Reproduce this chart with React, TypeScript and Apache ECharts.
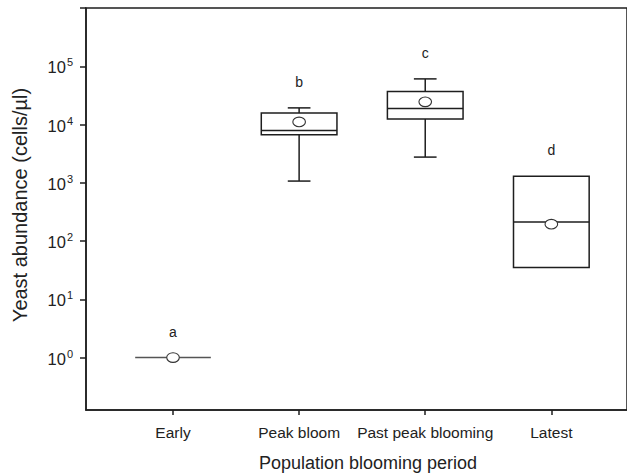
import React, { useEffect, useRef } from "react";
import * as echarts from "echarts";

const categories = ["Early", "Peak bloom", "Past peak blooming", "Latest"];
const whiskerLow = [1, 1070, 2760, 35];
const quartile1 = [1, 6650, 12400, 35];
const medians = [1, 7900, 18900, 212];
const quartile3 = [1, 15700, 36900, 1300];
const whiskerHigh = [1, 19300, 60700, 1300];
const means = [1, 11100, 24500, 195];
const groupLetters = ["a", "b", "c", "d"];
const yTickExponents = [0, 1, 2, 3, 4, 5, 6];
const yLabelExponents = [0, 1, 2, 3, 4, 5];

const FONT = "Liberation Sans, Arial, sans-serif";
const INK = "#1e1e1e";

export default function App() {
  const ref = useRef<HTMLDivElement>(null);
  useEffect(() => {
    if (!ref.current) return;
    const chart = echarts.init(ref.current, null, { renderer: "svg" });
    const data = categories.map((_, i) => [
      i + 1,
      Math.log10(whiskerLow[i]),
      Math.log10(quartile1[i]),
      Math.log10(medians[i]),
      Math.log10(quartile3[i]),
      Math.log10(whiskerHigh[i]),
      Math.log10(means[i]),
    ]);
    const xMin = 0.31;
    const xMax = 4.6;
    chart.setOption({
      animation: false,
      grid: {
        left: 86,
        top: 8,
        bottom: 64,
        right: -1,
        show: true,
        borderColor: INK,
        borderWidth: 1.5,
        backgroundColor: "transparent",
      },
      xAxis: {
        type: "value",
        min: xMin,
        max: xMax,
        position: "bottom",
        splitLine: { show: false },
        axisLine: { show: true, onZero: false, lineStyle: { color: INK, width: 1.5 } },
        axisTick: {
          show: true,
          customValues: [1, 2, 3, 4],
          length: 5,
          lineStyle: { color: INK, width: 1.5 },
        },
        axisLabel: {
          customValues: [1, 2, 3, 4],
          formatter: (v: number) => categories[Math.round(v) - 1] ?? "",
          fontFamily: FONT,
          fontSize: 15.5,
          color: "#222",
          margin: 14,
        },
      },
      yAxis: {
        type: "value",
        min: -0.9,
        max: 6,
        splitLine: { show: false },
        axisLine: { show: true, onZero: false, lineStyle: { color: INK, width: 1.5 } },
        axisTick: {
          show: true,
          customValues: yTickExponents,
          length: 6,
          lineStyle: { color: INK, width: 1.5 },
        },
        axisLabel: {
          customValues: yLabelExponents,
          formatter: (v: number) => `{b|10}{s|${Math.round(v)}}`,
          margin: 13,
          rich: {
            b: { fontFamily: FONT, fontSize: 16.5, color: "#222", lineHeight: 19, verticalAlign: "bottom" },
            s: { fontFamily: FONT, fontSize: 11, color: "#222", lineHeight: 19, verticalAlign: "top", padding: [0, 0, 0, 1] },
          },
        },
      },
      graphic: [
        {
          type: "text",
          x: 20,
          y: 205,
          rotation: Math.PI / 2,
          style: {
            text: "Yeast abundance (cells/µl)",
            fontFamily: FONT,
            fontSize: 20,
            fill: "#222",
            align: "center",
            verticalAlign: "middle",
          },
        },
        {
          type: "text",
          x: 368,
          y: 463,
          style: {
            text: "Population blooming period",
            fontFamily: FONT,
            fontSize: 18,
            fill: "#222",
            align: "center",
            verticalAlign: "middle",
          },
        },
      ],
      series: [
        {
          type: "custom",
          data,
          encode: { x: 0, y: [1, 2, 3, 4, 5, 6] },
          renderItem: (params: any, api: any) => {
            const x = api.value(0);
            const lo = api.coord([x, api.value(1)]);
            const q1 = api.coord([x, api.value(2)]);
            const md = api.coord([x, api.value(3)]);
            const q3 = api.coord([x, api.value(4)]);
            const hi = api.coord([x, api.value(5)]);
            const mn = api.coord([x, api.value(6)]);
            const half = api.size([0.6, 0])[0] / 2;
            const cap = api.size([0.18, 0])[0] / 2;
            const cx = md[0];
            const line = { stroke: INK, lineWidth: 1.5, fill: "none" };
            const children: any[] = [];
            if (hi[1] < q3[1] - 0.5) {
              children.push({ type: "line", shape: { x1: cx, y1: q3[1], x2: cx, y2: hi[1] }, style: line });
              children.push({ type: "line", shape: { x1: cx - cap, y1: hi[1], x2: cx + cap, y2: hi[1] }, style: line });
            }
            if (lo[1] > q1[1] + 0.5) {
              children.push({ type: "line", shape: { x1: cx, y1: q1[1], x2: cx, y2: lo[1] }, style: line });
              children.push({ type: "line", shape: { x1: cx - cap, y1: lo[1], x2: cx + cap, y2: lo[1] }, style: line });
            }
            if (q1[1] - q3[1] > 0.5) {
              children.push({
                type: "polygon",
                shape: {
                  points: [
                    [cx - half, q3[1]],
                    [cx + half, q3[1]],
                    [cx + half, q1[1]],
                    [cx - half, q1[1]],
                  ],
                },
                style: { stroke: INK, lineWidth: 1.5, fill: "#fff" },
              });
            }
            children.push({
              type: "line",
              shape: { x1: cx - half, y1: md[1], x2: cx + half, y2: md[1] },
              style: q1[1] - q3[1] > 0.5 ? line : { stroke: "#555", lineWidth: 1.6 },
            });
            children.push({
              type: "ellipse",
              shape: { cx, cy: mn[1], rx: 6.3, ry: 4.8 },
              style: { stroke: "#333", lineWidth: 1.1, fill: "#fff" },
            });
            children.push({
              type: "text",
              x: cx,
              y: hi[1] - 26,
              style: {
                text: groupLetters[params.dataIndex],
                fontFamily: FONT,
                fontSize: 14,
                fill: "#222",
                align: "center",
                verticalAlign: "middle",
              },
            });
            return { type: "group", children };
          },
        },
      ],
    });
    return () => chart.dispose();
  }, []);
  return (
    <div
      ref={ref}
      style={{ position: "absolute", left: 0, top: 0, width: 627, height: 474 }}
    />
  );
}
